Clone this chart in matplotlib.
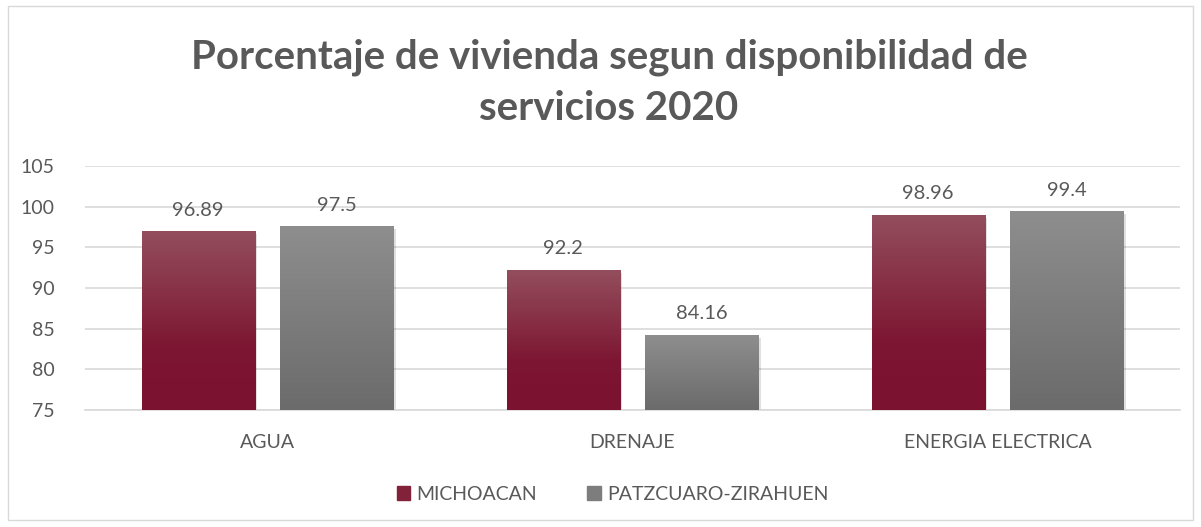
import matplotlib.pyplot as plt
import numpy as np
from matplotlib.colors import LinearSegmentedColormap
from matplotlib.patches import Rectangle

categories = ["AGUA", "DRENAJE", "ENERGIA ELECTRICA"]
michoacan = [96.89, 92.2, 98.96]
patzcuaro = [97.5, 84.16, 99.4]
labels_m = ["96.89", "92.2", "98.96"]
labels_p = ["97.5", "84.16", "99.4"]

plt.rcParams['font.family'] = ['Lato', 'DejaVu Sans']
TXT = '#595959'

fig = plt.figure(figsize=(12.01, 5.27), dpi=100)
ax = fig.add_axes([0.0708, 0.222, 0.9117, 0.463])

# light border round the chart area
fig.patches.append(Rectangle((0.007, 0.013), 0.986, 0.975, transform=fig.transFigure,
                             fill=False, edgecolor='#d9d9d9', linewidth=1))

x = np.arange(len(categories))
w = 0.31
off = 0.19
bars_m = ax.bar(x - off, michoacan, w, bottom=0, color='none', zorder=3)
bars_p = ax.bar(x + off, patzcuaro, w, bottom=0, color='none', zorder=3)

cm_m = LinearSegmentedColormap.from_list('m', [(0, '#7b1230'), (0.35, '#7d1632'), (1, '#934e5d')])
cm_g = LinearSegmentedColormap.from_list('g', [(0, '#6b6b6b'), (1, '#8e8e8e')])
grad = np.linspace(0, 1, 256).reshape(-1, 1)

ymin = 75
for bars, cmap in [(bars_m, cm_m), (bars_p, cm_g)]:
    for b in bars:
        x0 = b.get_x()
        x1 = x0 + b.get_width()
        top = b.get_height()
        # soft shadow
        ax.add_patch(Rectangle((x0 + 0.006, ymin), b.get_width(), top - ymin - 0.3,
                               color='#000000', alpha=0.12, zorder=2, linewidth=0))
        ax.imshow(grad, extent=(x0, x1, ymin, top), origin='lower', aspect='auto',
                  cmap=cmap, zorder=3)

for bars, labs in [(bars_m, labels_m), (bars_p, labels_p)]:
    for b, t in zip(bars, labs):
        ax.text(b.get_x() + b.get_width() / 2, b.get_height() + 1.6, t,
                ha='center', va='bottom', fontsize=14.5, color=TXT)

ax.set_xlim(-0.5, 2.5)
ax.set_ylim(75, 105)
ax.set_yticks(range(75, 106, 5))
ax.set_xticks(x)
ax.set_xticklabels(categories)
ax.tick_params(axis='both', length=0, labelsize=14, colors=TXT)
ax.tick_params(axis='y', pad=22)
ax.tick_params(axis='x', pad=17)
for t in ax.get_yticklabels():
    t.set_horizontalalignment('right')
ax.grid(axis='y', color='#d9d9d9', linewidth=1.2, zorder=0)
for s in ['top', 'right', 'left']:
    ax.spines[s].set_visible(False)
ax.spines['bottom'].set_color('#d9d9d9')
ax.spines['bottom'].set_linewidth(1.2)

fig.text(0.507, 0.843, "Porcentaje de vivienda segun disponibilidad de\nservicios 2020",
         ha='center', va='center', fontsize=29, fontweight='bold', color=TXT,
         linespacing=1.45)

h1 = Rectangle((0, 0), 1, 1, color='#82213a')
h2 = Rectangle((0, 0), 1, 1, color='#7d7d7d')
fig.legend([h1, h2], ["MICHOACAN", "PATZCUARO-ZIRAHUEN"], loc='center',
           bbox_to_anchor=(0.51, 0.062), ncol=2, frameon=False, fontsize=14,
           labelcolor=TXT, handlelength=0.7, handleheight=0.7, handletextpad=0.3,
           columnspacing=2.6)

fig.savefig("out.png", dpi=100)
